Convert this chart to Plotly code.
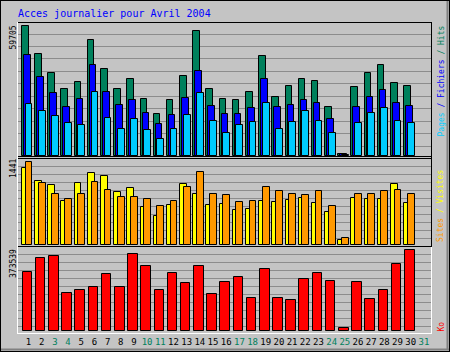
import plotly.graph_objects as go

# ---------------- data ----------------
days = list(range(1, 31))
tick_days = list(range(1, 32))
weekend_days = [3, 4, 10, 11, 17, 18, 24, 25, 31]

hits = [59705, 46846, 38120, 30633, 33986, 53275, 39819, 30633, 35226, 26040,
        19289, 25581, 36604, 57271, 30633, 26040, 25581, 29393, 45789, 26959,
        32011, 35226, 34307, 22366, 1150, 31552, 37981, 41656, 33389, 32011]
files = [46386, 36283, 28934, 22366, 26178, 41656, 29393, 23285, 25581, 19611,
         14559, 18692, 26500, 38900, 22964, 19152, 19289, 21907, 35226, 22366,
         23285, 25581, 24204, 16855, 700, 22366, 26959, 30174, 24204, 22826]
pages = [23744, 20529, 18233, 15018, 14100, 29393, 17314, 12262, 16855, 11803,
         7670, 12262, 18692, 28796, 15937, 10425, 14100, 15478, 24204, 12262,
         15478, 20529, 15937, 10425, 460, 15018, 19611, 21907, 15937, 15018]
visits = [1332, 1111, 1042, 759, 1076, 1250, 1198, 920, 990, 660,
          503, 694, 1059, 885, 694, 712, 608, 625, 764, 746,
          781, 816, 729, 573, 87, 816, 799, 799, 1059, 729]
sites = [1441, 1076, 885, 799, 885, 1094, 955, 833, 833, 799,
         677, 764, 1007, 1273, 885, 868, 746, 764, 1007, 937,
         885, 868, 937, 677, 122, 885, 885, 937, 955, 885]
kbytes = [271700, 336500, 345800, 174500, 188400, 202300, 262500, 202300, 355000, 299500,
          188400, 267100, 220800, 299500, 169900, 225400, 248600, 151400, 285600, 151400,
          142100, 239300, 267100, 230100, 12500, 225400, 146700, 188400, 308800, 373539]

title = "Acces journalier pour Avril 2004"

# ---------------- colours ----------------
C_BG = "#C4C4C4"
C_GRID = "#8C8C8C"
C_HITS = "#00805C"
C_FILES = "#0000FF"
C_PAGES = "#00CCFF"
C_VISITS = "#FFFF00"
C_SITES = "#FF9900"
C_KB = "#FF0000"

W, H = 450, 352
MONO = "DejaVu Sans Mono"


def xp(px):
    return px / W


def yp(py):
    return 1 - py / H


# x geometry (pixels)
X0_PX, X1_PX = 17, 431
C1_PX, STEP = 28.5, 13.18
x_range = [1 + (X0_PX - C1_PX) / STEP, 1 + (X1_PX - C1_PX) / STEP]


def u(px):
    return px / STEP


# panel geometry: top px, base px, px height of max bar, first grid, grid step
panels = {
    "top": dict(top=22, base=156, hmax=130, g0=10, gs=12.44, vmax=max(hits)),
    "mid": dict(top=159, base=245, hmax=83, g0=6.7, gs=8.0, vmax=max(max(visits), max(sites))),
    "bot": dict(top=247, base=331, hmax=80.7, g0=4.7, gs=7.96, vmax=max(kbytes)),
}

fig = go.Figure()

line = dict(color="black", width=1)

fig.add_trace(go.Bar(x=days, y=hits, offset=u(-6.6), width=u(6.6), marker=dict(color=C_HITS, line=line),
                     xaxis="x", yaxis="y", name="Hits"))
fig.add_trace(go.Bar(x=days, y=files, offset=u(-4.6), width=u(6.6), marker=dict(color=C_FILES, line=line),
                     xaxis="x", yaxis="y", name="Fichiers"))
fig.add_trace(go.Bar(x=days, y=pages, offset=u(-2.9), width=u(6.8), marker=dict(color=C_PAGES, line=line),
                     xaxis="x", yaxis="y", name="Pages"))
fig.add_trace(go.Bar(x=days, y=visits, offset=u(-6.6), width=u(6.8), marker=dict(color=C_VISITS, line=line),
                     xaxis="x2", yaxis="y2", name="Visites"))
fig.add_trace(go.Bar(x=days, y=sites, offset=u(-2.9), width=u(6.8), marker=dict(color=C_SITES, line=line),
                     xaxis="x2", yaxis="y2", name="Sites"))
fig.add_trace(go.Bar(x=days, y=kbytes, offset=u(-5.8), width=u(9.6), marker=dict(color=C_KB, line=line),
                     xaxis="x3", yaxis="y3", name="Ko"))

ticktext = []
for d in tick_days:
    if d in weekend_days:
        ticktext.append(f"<span style='color:{C_HITS}'>{d}</span>")
    else:
        ticktext.append(str(d))

layout = dict(
    width=W, height=H, autosize=False,
    margin=dict(l=0, r=0, t=0, b=0),
    paper_bgcolor=C_BG, plot_bgcolor=C_BG,
    barmode="overlay", showlegend=False, bargap=0,
)

for i, key in enumerate(["top", "mid", "bot"]):
    p = panels[key]
    span = p["base"] - p["top"]
    rmax = p["vmax"] * span / p["hmax"]
    per_px = p["vmax"] / p["hmax"]
    grid = [(p["g0"] + k * p["gs"]) * per_px for k in range(10)]
    sfx = "" if i == 0 else str(i + 1)
    layout["xaxis" + sfx] = dict(
        domain=[xp(X0_PX), xp(X1_PX)], range=x_range, anchor="y" + sfx,
        showgrid=False, zeroline=False, showline=False, ticks="",
        tickmode="array", tickvals=tick_days, ticktext=ticktext,
        showticklabels=(key == "bot"),
        tickfont=dict(family=MONO, size=9, color="black"),
        fixedrange=True,
    )
    layout["yaxis" + sfx] = dict(
        domain=[yp(p["base"]), yp(p["top"])], range=[0, rmax], anchor="x" + sfx,
        tickmode="array", tickvals=grid, showticklabels=False, ticks="",
        showgrid=True, gridcolor=C_GRID, gridwidth=1, zeroline=False, showline=False,
        fixedrange=True,
    )

layout["xaxis3"]["ticklabelstandoff"] = 4

fig.update_layout(**layout)


def hline(y, x0, x1, color, width=1):
    fig.add_shape(type="line", xref="paper", yref="paper", x0=xp(x0), x1=xp(x1), y0=yp(y), y1=yp(y),
                  line=dict(color=color, width=width), layer="above")


def vline(x, y0, y1, color, width=1):
    fig.add_shape(type="line", xref="paper", yref="paper", x0=xp(x), x1=xp(x), y0=yp(y0), y1=yp(y1),
                  line=dict(color=color, width=width), layer="above")


# panel frames
hline(22.5, 17, 432, "black")
hline(156.5, 17, 432, "black")
hline(158.5, 17, 432, "black")
hline(246.5, 17, 432, "black")
hline(333.5, 17, 432, "white")
vline(17.5, 22, 334, "white")
vline(431.5, 22, 247, "black")
vline(431.5, 247, 334, "white")

# outer frame
hline(0.5, 0, 450, "black")
hline(351.5, 0, 450, "black")
vline(0.5, 0, 352, "black")
vline(449.5, 0, 352, "black")
hline(349.5, 1, 449, "#808080", 2)
vline(447.5, 1, 350, "#808080", 2)

# title
fig.add_annotation(text=title, xref="paper", yref="paper", x=xp(16), y=yp(13.5),
                   xanchor="left", yanchor="middle", showarrow=False,
                   font=dict(family=MONO, size=10, color="#0000FF"))

# left max labels
lab_font = dict(family=MONO, size=8, color="black")
for text, yc in [(f"{max(hits)}", 37.5),
                 (f"{max(max(visits), max(sites))}", 169),
                 (f"{max(kbytes)}", 264)]:
    fig.add_annotation(text=text, xref="paper", yref="paper", x=xp(13), y=yp(yc),
                       xanchor="center", yanchor="middle", showarrow=False, textangle=-90,
                       font=lab_font)

# right legend labels
right = [
    (f"<span style='color:{C_PAGES}'>Pages</span><span style='color:{C_FILES}'> / Fichiers</span>"
     f"<span style='color:{C_HITS}'> / Hits</span>", 81),
    (f"<span style='color:{C_SITES}'>Sites</span><span style='color:{C_VISITS}'> / Visites</span>", 206.5),
    (f"<span style='color:{C_KB}'>Ko</span>", 327),
]
for text, yc in right:
    fig.add_annotation(text=text, xref="paper", yref="paper", x=xp(440.5), y=yp(yc),
                       xanchor="center", yanchor="middle", showarrow=False, textangle=-90,
                       font=dict(family=MONO, size=8, color="black"))

fig.write_html("out.html")
